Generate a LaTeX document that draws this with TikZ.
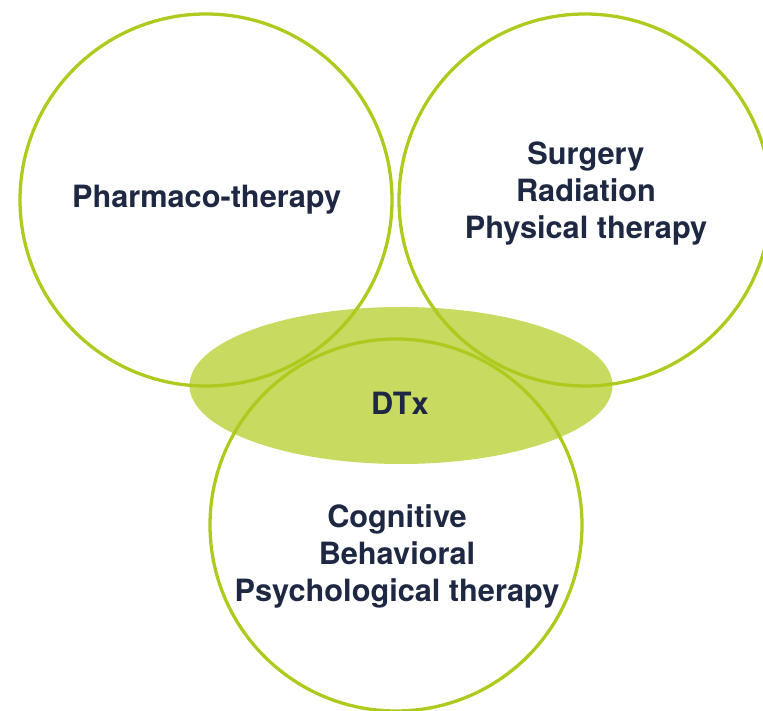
\documentclass[tikz,border=0pt]{standalone}
\usepackage{fontspec}
\setmainfont{TeX Gyre Heros}
\usepackage{xcolor}
\usetikzlibrary{positioning, shapes.geometric}

\definecolor{limeline}{HTML}{AFCA1E}
\definecolor{limefill}{HTML}{C8DA60}
\definecolor{navytext}{HTML}{1E2843}

\begin{document}
\begin{tikzpicture}[
  ring/.style={draw=limeline, line width=2.8pt, circle, minimum size=11.16cm, inner sep=0pt},
  blob/.style={fill=limefill, ellipse, minimum width=12.69cm, minimum height=4.71cm, inner sep=0pt},
  label/.style={text=navytext, align=center, font=\bfseries\fontsize{26.2}{31.6}\selectfont}
]
\useasboundingbox (0,0) rectangle (22.89,21.3);
% filled overlap first, rings on top
\node[blob] (dtx) at (12.03,9.735) {};
\node[ring] (pharma) at (6.18,15.3) {};
\node[ring] (surgery) at (17.55,15.3) {};
\node[ring] (cbt) at (11.88,5.55) {};
\node[label] (pharmatext) at (6.2,15.3) {Pharmaco-therapy};
\node[label] (surgerytext) at (17.58,15.5) {Surgery\\Radiation\\Physical therapy};
\node[label] (dtxtext) at (12.0,9.2) {DTx};
\node[label] (cbttext) at (11.91,4.62) {Cognitive\\Behavioral\\Psychological therapy};
\end{tikzpicture}
\end{document}
